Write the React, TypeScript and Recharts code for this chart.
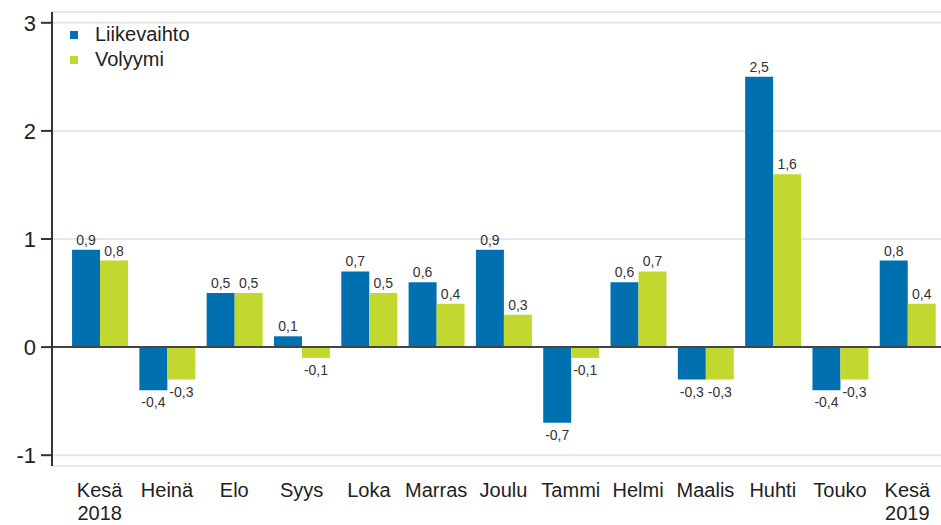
import React from 'react';
import { BarChart, Bar, XAxis, YAxis, CartesianGrid, ReferenceLine, LabelList } from 'recharts';

const months = ['Kesä', 'Heinä', 'Elo', 'Syys', 'Loka', 'Marras', 'Joulu', 'Tammi', 'Helmi', 'Maalis', 'Huhti', 'Touko', 'Kesä'];
const years = ['2018', '', '', '', '', '', '', '', '', '', '', '', '2019'];
const liikevaihto = [0.9, -0.4, 0.5, 0.1, 0.7, 0.6, 0.9, -0.7, 0.6, -0.3, 2.5, -0.4, 0.8];
const volyymi = [0.8, -0.3, 0.5, -0.1, 0.5, 0.4, 0.3, -0.1, 0.7, -0.3, 1.6, -0.3, 0.4];
const yTicks = [-1, 0, 1, 2, 3];
const series = [
  { key: 'liikevaihto', name: 'Liikevaihto', color: '#0070b0' },
  { key: 'volyymi', name: 'Volyymi', color: '#c3d82e' },
];

const data = months.map((m, i) => ({
  key: i,
  month: m,
  year: years[i],
  liikevaihto: liikevaihto[i],
  volyymi: volyymi[i],
}));

const FONT = '"Liberation Sans", Arial, sans-serif';

const fmt = (v: number) => v.toFixed(1).replace('.', ',');

const ValueLabel = (props: any) => {
  const { x, y, width, height, value } = props;
  const top = Math.min(y, y + height);
  const bottom = Math.max(y, y + height);
  const cx = x + width / 2;
  const ty = value >= 0 ? top - 5 : bottom + 17;
  return (
    <text x={cx} y={ty} textAnchor="middle" fontSize={14} fill="#333" fontFamily={FONT}>
      {fmt(value)}
    </text>
  );
};

const MonthTick = (props: any) => {
  const { x, y, payload } = props;
  const row = data[payload.value];
  return (
    <g transform={`translate(${x},${y})`}>
      <text textAnchor="middle" fontSize={20} fill="#222" fontFamily={FONT}>
        <tspan x={0} dy={23}>{row.month}</tspan>
        {row.year && <tspan x={0} dy={23}>{row.year}</tspan>}
      </text>
    </g>
  );
};

export default function App() {
  return (
    <div style={{ position: 'absolute', left: 0, top: 0, width: 941, height: 525, background: '#fff' }}>
      <BarChart
        width={941}
        height={525}
        data={data}
        margin={{ top: 12, right: 0, left: 0, bottom: 0 }}
        barCategoryGap="9%"
        barGap={0}
      >
        <CartesianGrid vertical={false} stroke="#e6e6e6" strokeWidth={2} />
        <XAxis
          dataKey="key"
          height={59}
          axisLine={false}
          tickLine={false}
          tick={<MonthTick />}
          interval={0}
          padding={{ left: 14, right: 0 }}
        />
        <YAxis
          width={52}
          domain={[-1.1, 3.1]}
          ticks={yTicks}
          allowDataOverflow
          axisLine={{ stroke: '#333', strokeWidth: 2 }}
          tickLine={{ stroke: '#333', strokeWidth: 2 }}
          tickSize={11}
          tickMargin={5}
          tick={{ fontSize: 22, fill: '#222', fontFamily: FONT }}
        />
        {series.map((s) => (
          <Bar key={s.key} dataKey={s.key} name={s.name} fill={s.color} isAnimationActive={false}>
            <LabelList dataKey={s.key} content={<ValueLabel />} />
          </Bar>
        ))}
        <ReferenceLine y={0} stroke="#444" strokeWidth={2} />
      </BarChart>
      <div style={{ position: 'absolute', left: 70, top: 22, fontFamily: FONT, fontSize: 20, color: '#222', lineHeight: '25px' }}>
        {series.map((s) => (
          <div key={s.key} style={{ display: 'flex', alignItems: 'center' }}>
            <span style={{ display: 'inline-block', width: 8, height: 8, background: s.color, marginRight: 17 }} />
            {s.name}
          </div>
        ))}
      </div>
    </div>
  );
}
